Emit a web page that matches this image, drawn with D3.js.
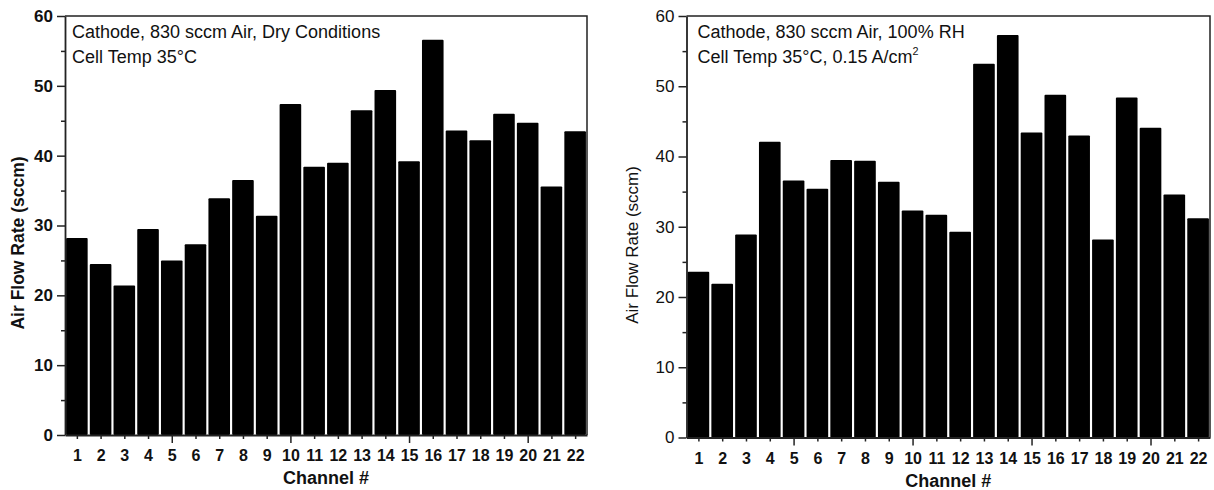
<!DOCTYPE html>
<html>
<head>
<meta charset="utf-8">
<script src="https://cdn.jsdelivr.net/npm/d3@7"></script>
<style>
  html, body { margin: 0; padding: 0; background: #fff; }
  svg { display: block; font-family: "Liberation Sans", Arial, sans-serif; }
</style>
</head>
<body>
<svg id="chart" width="1214" height="490"></svg>
<script>
// ---- data ----
const channels = [1,2,3,4,5,6,7,8,9,10,11,12,13,14,15,16,17,18,19,20,21,22];
const dryFlow = [28.2, 24.5, 21.4, 29.5, 25.0, 27.3, 33.9, 36.5, 31.4, 47.4, 38.4,
                 39.0, 46.5, 49.4, 39.2, 56.6, 43.6, 42.2, 46.0, 44.7, 35.6, 43.5];
const wetFlow = [23.6, 21.9, 28.9, 42.1, 36.6, 35.4, 39.5, 39.4, 36.4, 32.3, 31.7,
                 29.3, 53.2, 57.3, 43.4, 48.8, 43.0, 28.2, 48.4, 44.1, 34.6, 31.2];
const yTickValues = [0, 5, 10, 15, 20, 25, 30, 35, 40, 45, 50, 55, 60];
const yTickLabels = ["0", "", "10", "", "20", "", "30", "", "40", "", "50", "", "60"];
const yTitle = "Air Flow Rate (sccm)";
const xTitle = "Channel #";
const dryNotes = ["Cathode, 830 sccm Air, Dry Conditions", "Cell Temp 35\u00B0C"];
const wetNotes = ["Cathode, 830 sccm Air, 100% RH", "Cell Temp 35\u00B0C, 0.15 A/cm"];

const svg = d3.select("#chart");

function drawPanel(cfg) {
  const x = d3.scaleLinear().domain([0.5, 22.5]).range([cfg.x0, cfg.x1]);
  const y = d3.scaleLinear().domain([0, 60]).range([cfg.y1, cfg.y0]);
  const g = svg.append("g");
  const half = 0.455;

  // bars
  g.selectAll("rect.bar").data(cfg.values).join("rect")
    .attr("class", "bar")
    .attr("x", (d, i) => x(channels[i] - half))
    .attr("width", (d, i) => x(channels[i] + half) - x(channels[i] - half))
    .attr("y", d => y(d))
    .attr("height", d => y(0) - y(d))
    .attr("fill", "#000")
    .attr("rx", 1);

  // frame (top and right)
  g.append("path")
    .attr("d", `M${cfg.x0},${cfg.y0}H${cfg.x1}V${cfg.y1}`)
    .attr("fill", "none").attr("stroke", "#222").attr("stroke-width", 1.5);

  // y axis
  const yAxis = d3.axisLeft(y).tickValues(yTickValues)
    .tickFormat((d, i) => yTickLabels[i]).tickSizeOuter(0).tickPadding(3);
  const ya = g.append("g").attr("transform", `translate(${cfg.x0},0)`).call(yAxis);
  ya.select(".domain").attr("stroke", "#222").attr("stroke-width", 1.8);
  ya.selectAll(".tick line")
    .attr("x2", d => d % 10 === 0 ? -8 : -4)
    .attr("stroke", "#222").attr("stroke-width", 1.5);
  ya.selectAll(".tick text")
    .attr("x", -12)
    .attr("font-size", cfg.tickFont).attr("font-weight", cfg.tickWeight).attr("fill", "#111");

  // x axis
  const xAxis = d3.axisBottom(x).tickValues(channels).tickFormat(d => String(d))
    .tickSizeOuter(0).tickPadding(3);
  const xa = g.append("g").attr("transform", `translate(0,${cfg.y1})`).call(xAxis);
  xa.select(".domain").attr("stroke", "#222").attr("stroke-width", 1.8);
  xa.selectAll(".tick line")
    .attr("y2", d => d % 5 === 0 ? 8 : 4)
    .attr("stroke", "#222").attr("stroke-width", 1.5);
  xa.selectAll(".tick text")
    .attr("y", 15)
    .attr("font-size", 16).attr("font-weight", "bold").attr("fill", "#111");

  // axis titles
  g.append("text")
    .attr("x", (cfg.x0 + cfg.x1) / 2).attr("y", cfg.y1 + 49)
    .attr("text-anchor", "middle").attr("font-size", 18).attr("font-weight", "bold")
    .attr("fill", "#111").text(xTitle);
  g.append("text")
    .attr("transform", `translate(${cfg.yTitleX},${cfg.yTitleY}) rotate(-90)`)
    .attr("text-anchor", "middle").attr("font-size", cfg.yTitleSize)
    .attr("font-weight", cfg.yTitleWeight).attr("fill", "#111").text(yTitle);

  // annotation
  const ann = g.append("text").attr("font-size", cfg.noteSize).attr("fill", "#111");
  cfg.notes.forEach((t, i) => {
    ann.append("tspan").attr("x", cfg.x0 + cfg.noteDx).attr("y", cfg.y0 + 22 + i * 25).text(t);
  });
  if (cfg.superscript) {
    ann.select("tspan:last-child").append("tspan")
      .attr("font-size", cfg.noteSize * 0.6).attr("dy", -8).text(cfg.superscript);
  }
}

drawPanel({
  x0: 65, x1: 587, y0: 16, y1: 435, values: dryFlow,
  tickFont: 17, tickWeight: "bold",
  yTitleX: 24, yTitleY: 243, yTitleSize: 17.5, yTitleWeight: "bold",
  notes: dryNotes, noteDx: 7, noteSize: 18
});
drawPanel({
  x0: 686.5, x1: 1210, y0: 16, y1: 437.5, values: wetFlow,
  tickFont: 17, tickWeight: "normal",
  yTitleX: 638, yTitleY: 245, yTitleSize: 17, yTitleWeight: "normal",
  notes: wetNotes, noteDx: 11, noteSize: 18, superscript: "2"
});
</script>
</body>
</html>
